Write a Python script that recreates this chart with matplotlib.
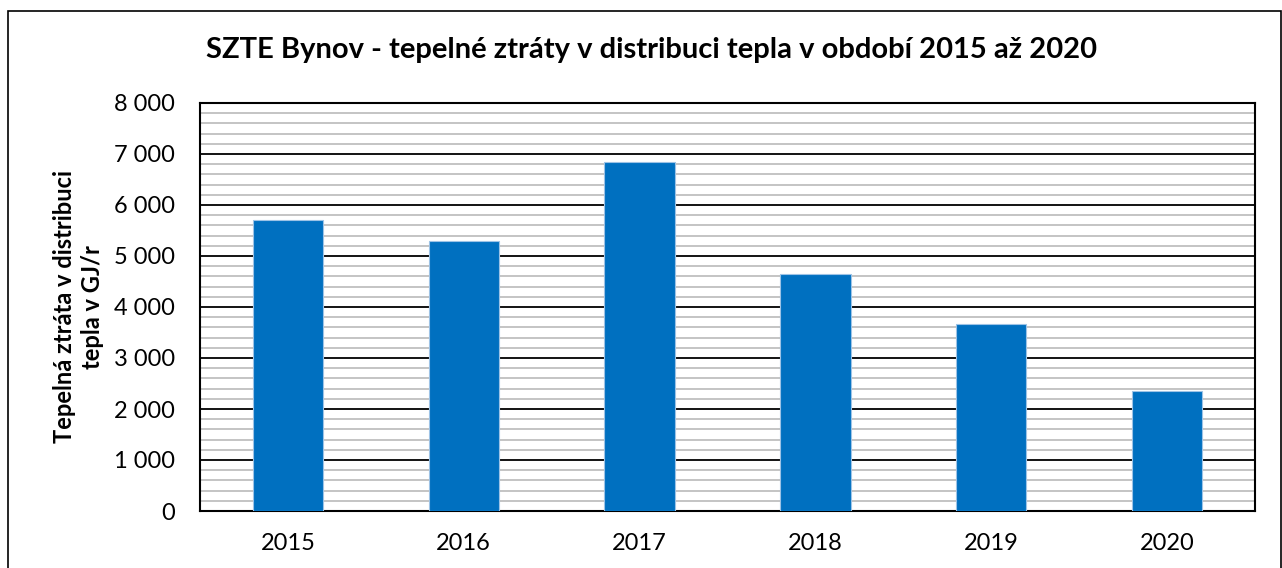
import matplotlib
matplotlib.use("Agg")
import matplotlib.pyplot as plt
from matplotlib.patches import Rectangle
from matplotlib.ticker import MultipleLocator, FuncFormatter

years = ["2015", "2016", "2017", "2018", "2019", "2020"]
losses = [5700, 5290, 6850, 4650, 3660, 2350]

title = "SZTE Bynov - tepelné ztráty v distribuci tepla v období 2015 až 2020"
ylabel = "Tepelná ztráta v distribuci\ntepla v GJ/r"

plt.rcParams['font.family'] = ['Lato', 'DejaVu Sans']

W, H = 1282, 568
fig = plt.figure(figsize=(W / 100, H / 100), dpi=100)
ax = fig.add_axes([200 / W, 1 - 511 / H, (1255 - 200) / W, (511 - 103) / H])

x = range(len(years))
ax.bar(x, losses, width=0.4, color="#0070C0", edgecolor="#9DC3E6", linewidth=0.8, zorder=3)

ax.set_xlim(-0.5, len(years) - 0.5)
ax.set_ylim(0, 8000)
ax.yaxis.set_major_locator(MultipleLocator(1000))
ax.yaxis.set_minor_locator(MultipleLocator(200))
ax.yaxis.set_major_formatter(FuncFormatter(lambda v, p: f"{int(v):,}".replace(",", " ")))
ax.grid(axis="y", which="major", color="black", linewidth=1.3, zorder=1)
ax.grid(axis="y", which="minor", color="#BFBFBF", linewidth=1.3, zorder=1)
ax.set_xticks(list(x))
ax.set_xticklabels(years)
ax.tick_params(axis="both", which="both", length=0, labelsize=17)
ax.tick_params(axis="x", pad=16)
ax.tick_params(axis="y", pad=18)
for s in ax.spines.values():
    s.set_linewidth(1.5)
    s.set_color("black")
ax.set_axisbelow(True)

ax.set_ylabel(ylabel, fontsize=17, fontweight="bold", linespacing=1.25)
ax.yaxis.set_label_coords(-0.091, 0.5)

fig.text(652 / W, 1 - 50 / H, title, fontsize=21, fontweight="bold", ha="center", va="center")

fig.patches.append(Rectangle((8 / W, -0.05), (1281 - 8) / W, 1.05 - 11 / H,
                             transform=fig.transFigure, fill=False, edgecolor="black",
                             linewidth=1.2, clip_on=False))

fig.savefig("out.png", dpi=100)
